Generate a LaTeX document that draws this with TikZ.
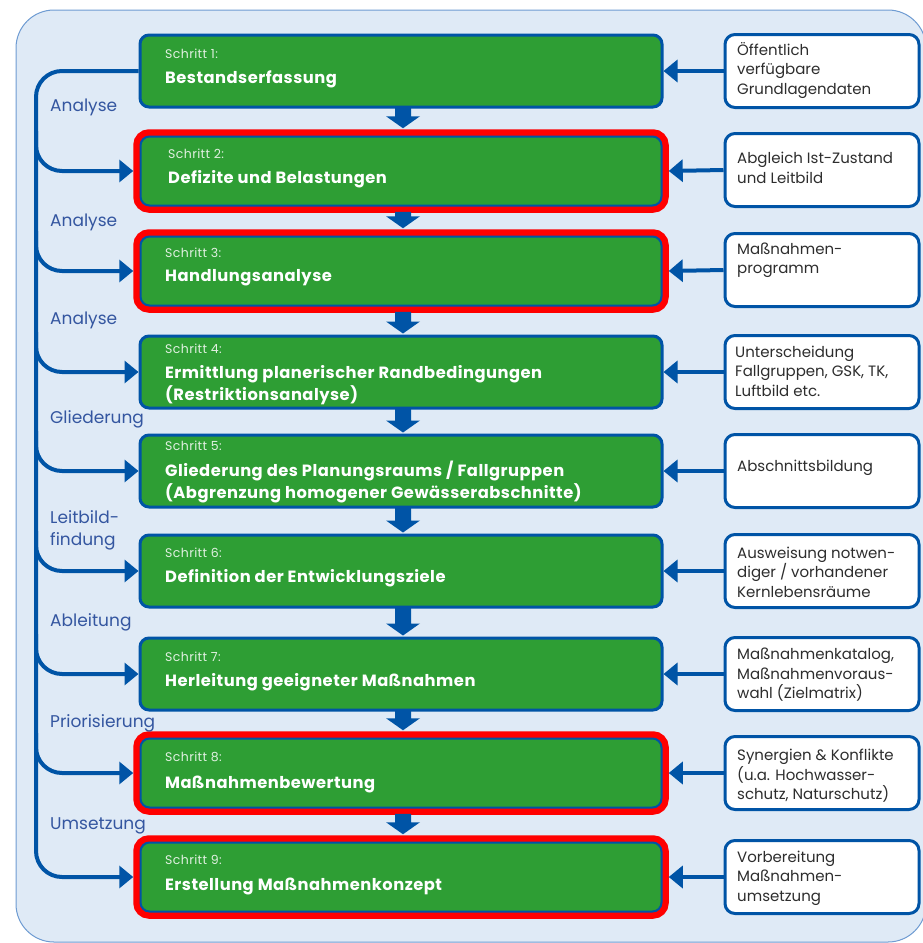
\documentclass[tikz,border=0pt]{standalone}
\usepackage{fontspec}
\setmainfont{Poppins}
\newfontfamily\widefont[LetterSpace=3]{Poppins}
\usetikzlibrary{arrows.meta,calc}
\definecolor{bgblue}{RGB}{223,234,246}
\definecolor{bgline}{RGB}{110,155,210}
\definecolor{stepgreen}{RGB}{46,158,52}
\definecolor{darkblue}{RGB}{0,84,166}
\definecolor{labelblue}{RGB}{52,86,160}
\definecolor{redline}{RGB}{255,0,0}
\definecolor{schrittcol}{RGB}{225,240,225}
\definecolor{textgray}{RGB}{45,45,45}
\begin{document}
\begin{tikzpicture}[x=1pt,y=-1pt,
  greenbox/.style={draw=darkblue, line width=3pt, fill=stepgreen, rounded corners=9pt,
    minimum width=522pt, minimum height=72pt, inner sep=0pt},
  redframe/.style={draw=redline, line width=7.5pt, rounded corners=12pt,
    minimum width=528pt, minimum height=76pt, inner sep=0pt},
  innergreen/.style={greenbox, line width=2pt, minimum width=521pt, minimum height=69pt},
  infobox/.style={draw=darkblue, line width=3pt, fill=white, rounded corners=10pt,
    minimum width=194pt, minimum height=73pt, inner sep=0pt},
  steplabel/.style={anchor=west, inner sep=0pt, text=schrittcol, font=\widefont\fontsize{12.5}{14}\selectfont},
  steptitle/.style={anchor=west, inner sep=0pt, text=white, align=left, font=\widefont\bfseries\fontsize{16.3}{22}\selectfont},
  infotext/.style={anchor=west, inner sep=0pt, align=left, text=textgray, font=\fontsize{15}{19.5}\selectfont},
  sidelabel/.style={anchor=west, inner sep=0pt, align=left, text=labelblue, font=\fontsize{17}{22}\selectfont},
  conn/.style={draw=darkblue, line width=4pt, -{Triangle[length=14pt,width=22pt]}},
  blockarrow/.style={fill=darkblue, draw=none}
]
\useasboundingbox (0,0) rectangle (922,943);
% background
\path[fill=bgblue, draw=bgline, line width=1pt, rounded corners=38pt] (16,10) rectangle (926,942);

% step boxes
\node[greenbox] (s1) at (401,71) {};
\node[redframe] (s2) at (401,171) {};
\node[innergreen] (g2) at (401,171) {};
\node[redframe] (s3) at (401,271) {};
\node[innergreen] (g3) at (401,271) {};
\node[greenbox] (s4) at (401,372) {};
\node[greenbox] (s5) at (401,471) {};
\node[greenbox] (s6) at (401,571) {};
\node[greenbox] (s7) at (401,674) {};
\node[redframe] (s8) at (401,773) {};
\node[innergreen] (g8) at (401,773) {};
\node[redframe] (s9) at (401,877) {};
\node[innergreen] (g9) at (401,877) {};

% step texts
\node[steplabel] (l1) at (165,54) {Schritt 1:};
\node[steptitle] (t1) at (165,79) {Bestandserfassung};
\node[steplabel] (l2) at (168,154) {Schritt 2:};
\node[steptitle] (t2) at (168,179) {Defizite und Belastungen};
\node[steplabel] (l3) at (165,253) {Schritt 3:};
\node[steptitle] (t3) at (165,278) {Handlungsanalyse};
\node[steplabel] (l4) at (165,349) {Schritt 4:};
\node[steptitle] (t4) at (165,385) {Ermittlung planerischer Randbedingungen\\(Restriktionsanalyse)};
\node[steplabel] (l5) at (165,446) {Schritt 5:};
\node[steptitle] (t5) at (165,482) {Gliederung des Planungsraums / Fallgruppen\\(Abgrenzung homogener Gewässerabschnitte)};
\node[steplabel] (l6) at (165,553) {Schritt 6:};
\node[steptitle] (t6) at (165,578) {Definition der Entwicklungsziele};
\node[steplabel] (l7) at (165,657) {Schritt 7:};
\node[steptitle] (t7) at (165,682) {Herleitung geeigneter Maßnahmen};
\node[steplabel] (l8) at (165,757) {Schritt 8:};
\node[steptitle] (t8) at (165,784) {Maßnahmenbewertung};
\node[steplabel] (l9) at (165,860) {Schritt 9:};
\node[steptitle] (t9) at (165,886) {Erstellung Maßnahmenkonzept};

% info boxes
\node[infobox] (r1) at (822,71) {};
\node[infobox] (r2) at (822,170) {};
\node[infobox] (r3) at (822,270) {};
\node[infobox] (r4) at (822,372) {};
\node[infobox] (r5) at (822,471) {};
\node[infobox] (r6) at (822,571) {};
\node[infobox] (r7) at (822,674) {};
\node[infobox] (r8) at (822,773) {};
\node[infobox] (r9) at (822,877) {};

\node[infotext] (i1) at (737,70) {Öffentlich\\verfügbare\\Grundlagendaten};
\node[infotext] (i2) at (737,168) {Abgleich Ist-Zustand\\und Leitbild};
\node[infotext] (i3) at (737,260) {Maßnahmen-\\programm};
\node[infotext] (i4) at (735,371) {Unterscheidung\\Fallgruppen, GSK, TK,\\Luftbild etc.};
\node[infotext] (i5) at (737,468) {Abschnittsbildung};
\node[infotext] (i6) at (737,572) {Ausweisung notwen-\\diger / vorhandener\\Kernlebensräume};
\node[infotext] (i7) at (737,675) {Maßnahmenkatalog,\\Maßnahmenvoraus-\\wahl (Zielmatrix)};
\node[infotext] (i8) at (737,776) {Synergien \& Konflikte\\(u.a. Hochwasser-\\schutz, Naturschutz)};
\node[infotext] (i9) at (737,878) {Vorbereitung\\Maßnahmen-\\umsetzung};

% info arrows
\foreach \i in {1,...,9}{
  \draw[conn] (r\i.west) -- (s\i.east);
}

% block arrows between steps
\foreach \a/\b in {1/2,2/3,3/4,4/5,5/6,6/7,7/8,8/9}{
  \fill[blockarrow] let \p1=(s\a.south), \p2=(s\b.north) in
    (\x1-6pt,\y1+1pt) -- (\x1+10pt,\y1+1pt) -- (\x1+10pt,\y2+13pt) -- (\x1+19pt,\y2+13pt)
    -- (\x1+2pt,\y2+1pt) -- (\x1-15pt,\y2+13pt) -- (\x1-6pt,\y2+13pt) -- cycle;
}

% left spine
\coordinate (spine) at (36,0);
\draw[conn, rounded corners=26pt] (s1.west) -- (spine |- s1.west) -- (spine |- s9.west) -- (s9.west);
\foreach \i in {2,...,8}{
  \draw[conn, rounded corners=26pt] ($(spine |- s\i.west)+(0,-40)$) -- (spine |- s\i.west) -- (s\i.west);
}

% side labels
\node[sidelabel] (a1) at (50,107) {Analyse};
\node[sidelabel] (a2) at (50,222) {Analyse};
\node[sidelabel] (a3) at (50,320) {Analyse};
\node[sidelabel] (a4) at (50,419) {Gliederung};
\node[sidelabel] (a5) at (50,530) {Leitbild-\\findung};
\node[sidelabel] (a6) at (50,622) {Ableitung};
\node[sidelabel] (a7) at (50,723) {Priorisierung};
\node[sidelabel] (a8) at (50,826) {Umsetzung};
\end{tikzpicture}
\end{document}
